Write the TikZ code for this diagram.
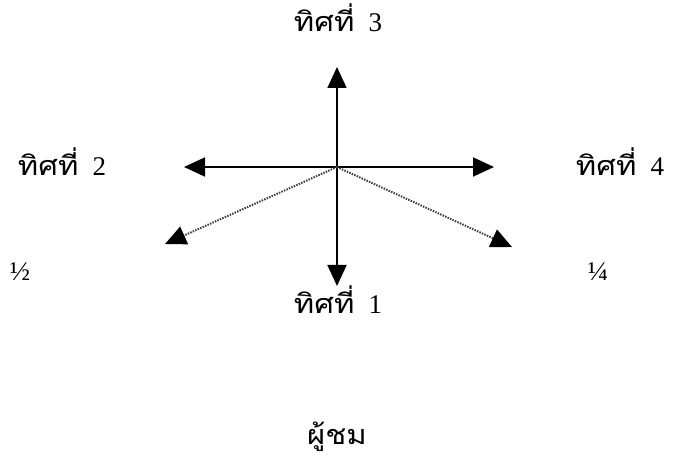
\documentclass[tikz,border=0pt]{standalone}
\usepackage{fontspec}
\setmainfont{Liberation Serif}
\newfontfamily\thaifont[Script=Thai,FakeStretch=1.15]{Loma}
\usetikzlibrary{arrows.meta}
\tikzset{
  tip/.style={-{Triangle[length=21pt,width=19pt,black,fill=black]}},
  solidarr/.style={tip, line width=1.8pt, black},
  dotarr/.style={tip, line width=2pt, black!75, dash pattern=on 1.5pt off 1.2pt},
  lbl/.style={font=\fontsize{27}{30}\selectfont, inner sep=0pt},
  frac/.style={font=\fontsize{27}{30}\selectfont, inner sep=0pt}
}
\begin{document}
\begin{tikzpicture}[x=1pt,y=-1pt]
\useasboundingbox (0,0) rectangle (673,470);
\coordinate (c) at (337,167);
\coordinate (up) at (337,67);
\coordinate (down) at (337,286);
\coordinate (left) at (184,167);
\coordinate (right) at (494,167);
\coordinate (dl) at (165,244);
\coordinate (dr) at (512,247);
\draw[solidarr] (c) -- (up);
\draw[solidarr] (c) -- (down);
\draw[solidarr] (c) -- (left);
\draw[solidarr] (c) -- (right);
\draw[dotarr] (c) -- (dl);
\draw[dotarr] (c) -- (dr);
\node[lbl] (d3) at (338,18) {{\thaifont ทิศที่}\hspace{14pt}3};
\node[lbl] (d2) at (62,162) {{\thaifont ทิศที่}\hspace{14pt}2};
\node[lbl] (d4) at (620,162) {{\thaifont ทิศที่}\hspace{14pt}4};
\node[lbl] (d1) at (338,300) {{\thaifont ทิศที่}\hspace{14pt}1};
\node[frac] (h) at (20,272) {½};
\node[frac] (q) at (598,272) {¼};
\node[lbl] (v) at (337,437) {\thaifont ผู้ชม};
\end{tikzpicture}
\end{document}
